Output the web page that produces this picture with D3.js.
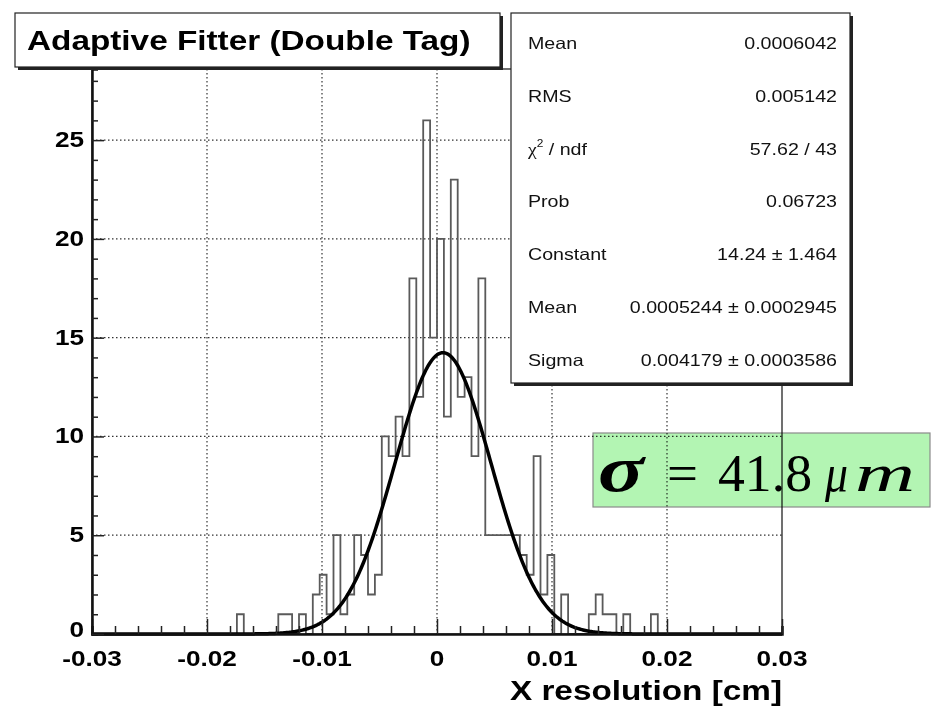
<!DOCTYPE html>
<html>
<head>
<meta charset="utf-8">
<script src="https://cdn.jsdelivr.net/npm/d3@7"></script>
<style>
  body { margin: 0; background: #fff; }
  svg { display: block; }
</style>
</head>
<body>
<svg id="chart" width="934" height="707"></svg>
<script>
// histogram: 100 bins from -0.03 to 0.03
const binLow = -0.03, binHigh = 0.03
const counts = [
    0, 0, 0, 0, 0, 0, 0, 0, 0, 0,
    0, 0, 0, 0, 0, 0, 0, 0, 0, 0,
    0, 1, 0, 0, 0, 0, 0, 1, 1, 0,
    1, 0, 2, 3, 1, 5, 1, 2, 5, 4,
    2, 3, 10, 9, 11, 9, 18, 12, 26, 15,
    20, 11, 23, 12, 13, 9, 18, 5, 5, 5,
    5, 5, 4, 3, 9, 2, 4, 0, 2, 0,
    0, 0, 1, 2, 1, 1, 0, 1, 0, 0,
    0, 1, 0, 0, 0, 0, 0, 0, 0, 0,
    0, 0, 0, 0, 0, 0, 0, 0, 0, 0
]

// gaussian fit
const fitConstant = 14.24
const fitMean = 0.0005244
const fitSigma = 0.004179

const xTicks = [-0.03, -0.02, -0.01, 0, 0.01, 0.02, 0.03]
const xTickLabels = ["-0.03", "-0.02", "-0.01", "0", "0.01", "0.02", "0.03"]
const yTicks = [0, 5, 10, 15, 20, 25]

const statLabels = ["Mean", "RMS", "χ2 / ndf", "Prob", "Constant", "Mean", "Sigma"]
const statValues = ["0.0006042", "0.005142", "57.62 / 43", "0.06723",
    "14.24 ± 1.464", "0.0005244 ± 0.0002945", "0.004179 ± 0.0003586"]

const title = "Adaptive Fitter (Double Tag)"
const xTitle = "X resolution [cm]"

const svg = d3.select("#chart")
const sx = 1.19
const frame = { left: 92, right: 782, top: 69, bottom: 634 }

const x = d3.scaleLinear().domain([binLow, binHigh]).range([frame.left, frame.right])
const y = d3.scaleLinear().domain([0, 28.6]).range([frame.bottom, frame.top])

function stext(g, px, py, str, anchor) {
    return g.append("text")
        .attr("transform", `translate(${px},${py}) scale(${sx},1)`)
        .attr("text-anchor", anchor || "start")
        .text(str)
}

// grid
const grid = svg.append("g")
    .attr("stroke", "#333").attr("stroke-width", 1.2).attr("stroke-dasharray", "1.5,2.5")
grid.selectAll(".gx").data(xTicks.slice(1, -1)).enter().append("line")
    .attr("x1", d => x(d)).attr("x2", d => x(d))
    .attr("y1", frame.top).attr("y2", frame.bottom)
grid.selectAll(".gy").data(yTicks.slice(1)).enter().append("line")
    .attr("x1", frame.left).attr("x2", frame.right)
    .attr("y1", d => y(d)).attr("y2", d => y(d))

// histogram outline
const binW = (binHigh - binLow) / counts.length
let pts = [[x(binLow), y(0)]]
counts.forEach((c, i) => {
    pts.push([x(binLow + i * binW), y(c)])
    pts.push([x(binLow + (i + 1) * binW), y(c)])
})
pts.push([x(binHigh), y(0)])
svg.append("path")
    .attr("d", d3.line()(pts))
    .attr("fill", "none")
    .attr("stroke", "#5a5a5a")
    .attr("stroke-width", 1.8)

// fit curve
const gauss = v => fitConstant * Math.exp(-0.5 * Math.pow((v - fitMean) / fitSigma, 2))
const fx = d3.range(0, 601).map(i => binLow + i * (binHigh - binLow) / 600)
svg.append("path")
    .attr("d", d3.line().x(d => x(d)).y(d => y(gauss(d)))(fx))
    .attr("fill", "none")
    .attr("stroke", "#000")
    .attr("stroke-width", 3.5)

// frame
svg.append("rect")
    .attr("x", frame.left).attr("y", frame.top)
    .attr("width", frame.right - frame.left).attr("height", frame.bottom - frame.top)
    .attr("fill", "none").attr("stroke", "#111").attr("stroke-width", 1.2)

// axes
const xAxis = svg.append("g").attr("transform", `translate(0,${frame.bottom})`)
xAxis.call(d3.axisTop(x).tickValues(d3.range(-15, 16).map(i => i * 0.002)).tickSize(8).tickFormat(""))
xAxis.selectAll(".tick").filter(d => Math.abs(Math.round(d * 100) - d * 100) < 1e-6)
    .select("line").attr("y2", -15)
xAxis.select(".domain").attr("stroke-width", 2.5).attr("stroke", "#111")
xAxis.selectAll(".tick line").attr("stroke-width", 1.5).attr("stroke", "#222")

const yAxis = svg.append("g").attr("transform", `translate(${frame.left},0)`)
yAxis.call(d3.axisRight(y).tickValues(d3.range(0, 29)).tickSize(6).tickFormat(""))
yAxis.selectAll(".tick").filter(d => d % 5 === 0).select("line").attr("x2", 12)
yAxis.select(".domain").attr("stroke-width", 2.5).attr("stroke", "#111")
yAxis.selectAll(".tick line").attr("stroke-width", 1.5).attr("stroke", "#222")

// tick labels
const lab = svg.append("g")
    .attr("font-family", "Liberation Sans, Arial, sans-serif")
    .attr("font-weight", "bold").attr("font-size", 22).attr("fill", "#000")
xTicks.forEach((t, i) => stext(lab, x(t), 666, xTickLabels[i], "middle"))
yTicks.forEach(t => stext(lab, 84, t === 0 ? y(t) + 3 : y(t) + 7, String(t), "end"))

svg.append("g")
    .attr("font-family", "Liberation Sans, Arial, sans-serif")
    .attr("font-weight", "bold").attr("font-size", 28)
    .call(g => stext(g, 782, 700, xTitle, "end"))

// title box
svg.append("rect").attr("x", 18).attr("y", 16).attr("width", 485).attr("height", 54).attr("fill", "#222")
svg.append("rect").attr("x", 15).attr("y", 13).attr("width", 485).attr("height", 54)
    .attr("fill", "#fff").attr("stroke", "#222").attr("stroke-width", 1.2)
svg.append("g")
    .attr("font-family", "Liberation Sans, Arial, sans-serif")
    .attr("font-weight", "bold").attr("font-size", 28)
    .call(g => stext(g, 27, 50, title, "start"))

// stats box
svg.append("rect").attr("x", 514).attr("y", 16).attr("width", 339).attr("height", 370).attr("fill", "#222")
svg.append("rect").attr("x", 511).attr("y", 13).attr("width", 339).attr("height", 370)
    .attr("fill", "#fff").attr("stroke", "#222").attr("stroke-width", 1.2)
const stats = svg.append("g")
    .attr("font-family", "Liberation Sans, Arial, sans-serif")
    .attr("font-size", 16.5).attr("fill", "#111")
statLabels.forEach((s, i) => {
    const py = 49 + i * 52.8
    if (s.startsWith("χ2")) {
        const t = stats.append("text").attr("transform", `translate(528,${py}) scale(${sx},1)`)
        t.append("tspan").attr("font-family", "Liberation Serif, serif").text("χ")
        t.append("tspan").attr("font-size", 10).attr("dy", -8).text("2")
        t.append("tspan").attr("dy", 8).text(" / ndf")
    } else {
        stext(stats, 528, py, s, "start")
    }
    stext(stats, 837, py, statValues[i], "end")
})

// sigma annotation
svg.append("rect").attr("x", 593).attr("y", 433).attr("width", 337).attr("height", 74)
    .attr("fill", "#b3f5b3").attr("stroke", "#8a8a8a").attr("stroke-width", 1.2)
    .style("mix-blend-mode", "multiply")
const sig = svg.append("g").attr("font-family", "Liberation Serif, Times New Roman, serif").attr("fill", "#000")
const pieces = [
    { s: "σ", x: 598, w: 46, size: 66, weight: "bold", style: "italic" },
    { s: "=", x: 667, w: 31, size: 52, weight: "normal", style: "normal" },
    { s: "41.8", x: 718, w: 94, size: 52, weight: "normal", style: "normal" },
    { s: "μ", x: 825, w: 23, size: 52, weight: "normal", style: "italic" },
    { s: "m", x: 855, w: 60, size: 52, weight: "normal", style: "italic" }
]
pieces.forEach(p => {
    sig.append("text").attr("x", p.x).attr("y", 491)
        .attr("font-size", p.size).attr("font-weight", p.weight).attr("font-style", p.style)
        .attr("textLength", p.w).attr("lengthAdjust", "spacingAndGlyphs")
        .text(p.s)
})
</script>
</body>
</html>
